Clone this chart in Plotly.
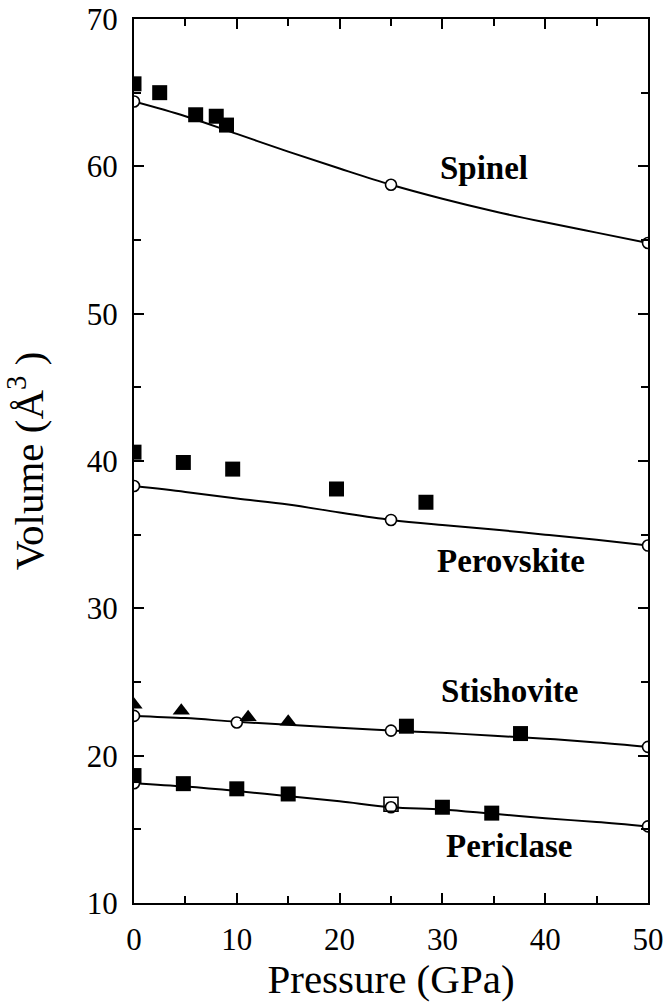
import plotly.graph_objects as go

# ---- data ----
line_p = [0, 5, 10, 15, 20, 25, 30, 35, 40, 45, 50]

spinel_line = [64.4, 63.4, 62.2, 61.0, 59.85, 58.75, 57.8, 56.95, 56.2, 55.5, 54.8]
spinel_calc_p = [0, 25, 50]
spinel_calc_v = [64.4, 58.75, 54.8]
spinel_exp_p = [0, 2.5, 6, 8, 9]
spinel_exp_v = [65.6, 65.0, 63.5, 63.4, 62.8]

perov_line = [38.3, 37.9, 37.45, 37.05, 36.5, 36.0, 35.65, 35.35, 35.0, 34.65, 34.26]
perov_calc_p = [0, 25, 50]
perov_calc_v = [38.3, 36.0, 34.26]
perov_exp_p = [0, 4.8, 9.6, 19.7, 28.4]
perov_exp_v = [40.6, 39.9, 39.45, 38.1, 37.2]

stish_line = [22.7, 22.55, 22.3, 22.1, 21.9, 21.7, 21.55, 21.35, 21.15, 20.9, 20.6]
stish_calc_p = [0, 10, 25, 50]
stish_calc_v = [22.7, 22.25, 21.7, 20.6]
stish_tri_p = [0, 4.6, 11.1, 15.0]
stish_tri_v = [23.45, 23.05, 22.6, 22.3]
stish_sq_p = [26.5, 37.6]
stish_sq_v = [22.0, 21.5]

peric_line = [18.13, 17.9, 17.6, 17.25, 16.9, 16.5, 16.35, 16.05, 15.75, 15.5, 15.2]
peric_calc_p = [0, 25, 50]
peric_calc_v = [18.13, 16.5, 15.2]
peric_exp_p = [0, 4.8, 10.0, 15.0, 30.0, 34.8]
peric_exp_v = [18.65, 18.1, 17.75, 17.4, 16.5, 16.1]
peric_open_sq_p = [25.0]
peric_open_sq_v = [16.7]

labels = ["Spinel", "Perovskite", "Stishovite", "Periclase"]
label_p = [34.0, 36.7, 36.6, 36.5]
label_v = [59.9, 33.2, 24.4, 13.9]

x_ticks = [0, 10, 20, 30, 40, 50]
y_ticks = [10, 20, 30, 40, 50, 60, 70]

FONT = "Liberation Serif"
fig = go.Figure()

for lv in [spinel_line, perov_line, stish_line, peric_line]:
    fig.add_trace(go.Scatter(x=line_p, y=lv, mode="lines", line_shape="spline",
                             line=dict(color="black", width=2), hoverinfo="skip"))

sq = dict(symbol="square", size=15, color="black")
circ = dict(symbol="circle", size=11, color="white", line=dict(color="black", width=1.6))
tri = dict(symbol="triangle-up", size=15, color="black")

for px, pv in [(spinel_calc_p, spinel_calc_v), (perov_calc_p, perov_calc_v),
               (stish_calc_p, stish_calc_v), (peric_calc_p, peric_calc_v)]:
    fig.add_trace(go.Scatter(x=px, y=pv, mode="markers", marker=circ))

fig.add_trace(go.Scatter(x=peric_open_sq_p, y=peric_open_sq_v, mode="markers",
                         marker=dict(symbol="square-open", size=14, color="black",
                                     line=dict(width=1.6))))

for px, pv in [(spinel_exp_p, spinel_exp_v), (perov_exp_p, perov_exp_v),
               (stish_sq_p, stish_sq_v), (peric_exp_p, peric_exp_v)]:
    fig.add_trace(go.Scatter(x=px, y=pv, mode="markers", marker=sq))

fig.add_trace(go.Scatter(x=stish_tri_p, y=stish_tri_v, mode="markers", marker=tri))

for t, px, pv in zip(labels, label_p, label_v):
    fig.add_annotation(x=px, y=pv, text="<b>%s</b>" % t, showarrow=False,
                       font=dict(family=FONT, size=33, color="black"))

axis_common = dict(showgrid=False, zeroline=False, showline=True, linecolor="black",
                   linewidth=2, mirror="allticks", ticks="inside", tickcolor="black",
                   tickwidth=1.5, ticklen=10, ticklabeloverflow="allow",
                   tickfont=dict(family=FONT, size=31, color="black"))

fig.update_xaxes(range=[0, 50], tickvals=x_ticks, ticklabelstandoff=8,
                 minor=dict(dtick=5, ticks="inside", ticklen=7, tickcolor="black", tickwidth=1.5),
                 title=dict(text="Pressure (GPa)", standoff=13,
                            font=dict(family=FONT, size=41, color="black")),
                 **axis_common)
fig.update_yaxes(range=[10, 70], tickvals=y_ticks, ticklabelstandoff=8,
                 minor=dict(dtick=5, ticks="inside", ticklen=7, tickcolor="black", tickwidth=1.5),
                 title=dict(text="Volume (Å<sup>3</sup> )", standoff=32,
                            font=dict(family=FONT, size=41, color="black")),
                 **axis_common)

fig.update_layout(width=665, height=1002, showlegend=False,
                  margin=dict(l=134, r=17, t=19, b=99, autoexpand=False),
                  paper_bgcolor="white", plot_bgcolor="white")

fig.write_html("out.html")
